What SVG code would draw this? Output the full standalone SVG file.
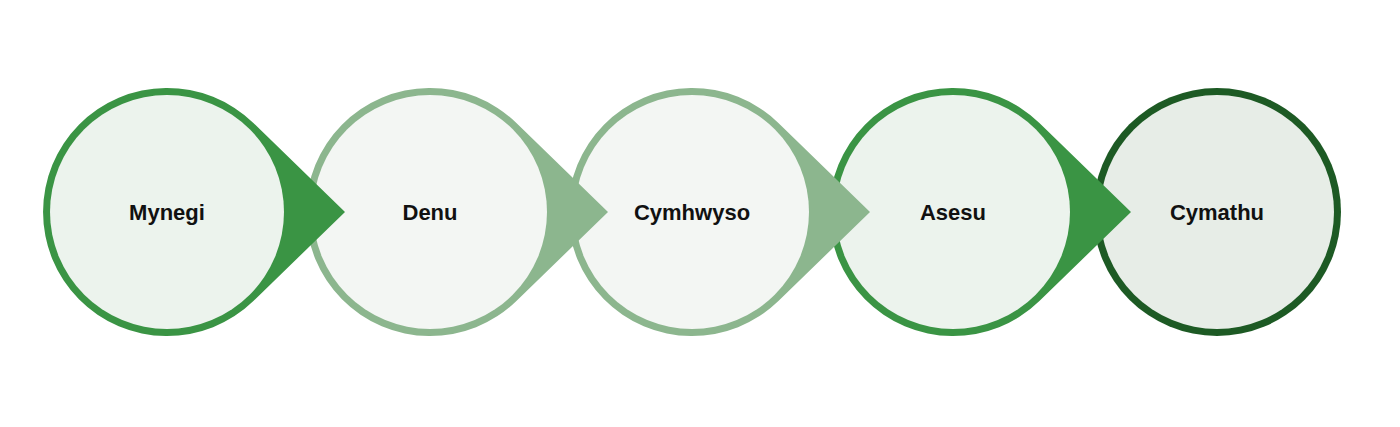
<svg xmlns="http://www.w3.org/2000/svg" width="1400" height="427" viewBox="0 0 1400 427">
<style>
text{font-family:"Liberation Sans",Arial,sans-serif;font-weight:bold;font-size:22px;fill:#111;text-anchor:middle;dominant-baseline:central}
.inner{stroke:none}
</style>
<defs>
<path id="drop" d="M86.4,-89 A124,124 0 1 0 86.4,89 L178,0 Z"/>
</defs>
<rect width="1400" height="427" fill="#fff"/>
<g id="n5" transform="translate(1217,212)">
<circle r="124" fill="#1d5a24"/><circle r="117" fill="#e7ede7"/><text>Cymathu</text></g>
<g id="n4" transform="translate(953,212)">
<use href="#drop" fill="#3a9444"/><circle r="117" fill="#ecf3ed"/><text>Asesu</text></g>
<g id="n3" transform="translate(692,212)">
<use href="#drop" fill="#8cb68e"/><circle r="117" fill="#f3f6f3"/><text>Cymhwyso</text></g>
<g id="n2" transform="translate(430,212)">
<use href="#drop" fill="#8cb68e"/><circle r="117" fill="#f3f6f3"/><text>Denu</text></g>
<g id="n1" transform="translate(167,212)">
<use href="#drop" fill="#3a9444"/><circle r="117" fill="#ecf3ed"/><text>Mynegi</text></g>
<g id="connectors"/>
</svg>
